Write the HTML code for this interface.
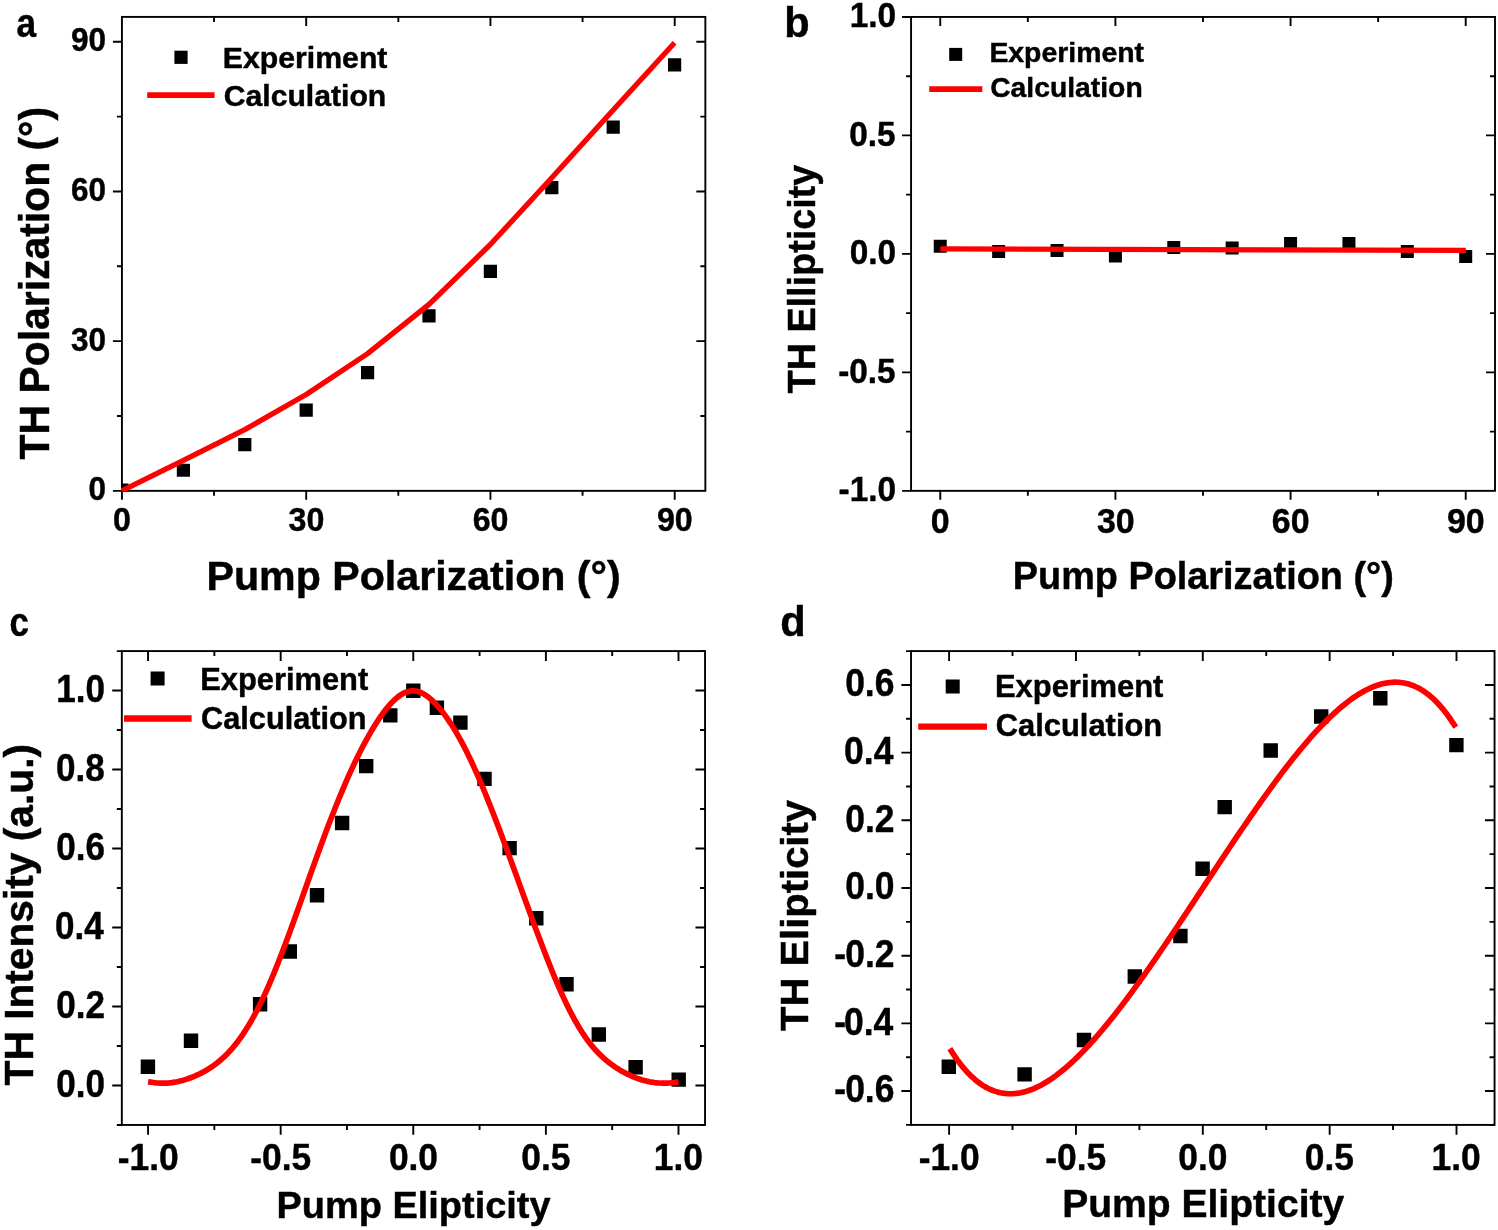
<!DOCTYPE html>
<html lang="en">
<head>
<meta charset="utf-8">
<title>TH polarization and ellipticity</title>
<style>
html,body{margin:0;padding:0;background:#fff;}
body{width:1498px;height:1230px;overflow:hidden;}
svg{display:block;}
svg text{font-family:'Liberation Sans', Arial, Helvetica, sans-serif;font-weight:bold;fill:#000;stroke:#000;stroke-width:0.45px;stroke-linejoin:round;}
</style>
</head>
<body>
<svg width="1498" height="1230" viewBox="0 0 1498 1230">
<rect width="1498" height="1230" fill="#fff"/>
<g id="panel-a">
<clipPath id="ca"><rect x="121.03" y="16.9" width="584.32" height="474.54"/></clipPath>
<rect x="121.93" y="16.9" width="583.42" height="473.94" fill="none" stroke="#000" stroke-width="1.9"/>
<path d="M121.93 490.84v9M306.19 490.84v9M306.19 16.9v9M490.44 490.84v9M490.44 16.9v9M674.7 490.84v9M674.7 16.9v9M214.06 490.84v5M214.06 16.9v5M398.32 490.84v5M398.32 16.9v5M582.57 490.84v5M582.57 16.9v5" stroke="#000" stroke-width="1.9" fill="none"/>
<path d="M121.93 490.84h-9M121.93 341.14h-9M705.35 341.14h-9M121.93 191.44h-9M705.35 191.44h-9M121.93 41.74h-9M705.35 41.74h-9M121.93 415.99h-5M705.35 415.99h-5M121.93 266.29h-5M705.35 266.29h-5M121.93 116.59h-5M705.35 116.59h-5" stroke="#000" stroke-width="1.9" fill="none"/>
<g clip-path="url(#ca)">
<path d="M115.4 483.6h13.2v13.2h-13.2zM176.8 463.67h13.2v13.2h-13.2zM238.2 438.1h13.2v13.2h-13.2zM299.6 403.62h13.2v13.2h-13.2zM361 365.99h13.2v13.2h-13.2zM422.4 309.18h13.2v13.2h-13.2zM483.8 264.83h13.2v13.2h-13.2zM545.2 181.11h13.2v13.2h-13.2zM606.6 120.56h13.2v13.2h-13.2zM668 58.27h13.2v13.2h-13.2z" fill="#000"/>
<polyline points="115.86,493.69 122,490.7 183.4,460.3 244.8,429.65 306.2,394.52 367.6,353.66 429,304.32 490.4,244.52 551.8,177.74 613.2,109.97 674.6,42.7" fill="none" stroke="#f00" stroke-width="5.3" stroke-linejoin="round"/>
</g>
<text x="113.01" y="531.4" font-size="33.5" text-anchor="start" textLength="17.89" lengthAdjust="spacingAndGlyphs">0</text>
<text x="88.48" y="500.44" font-size="32.8" text-anchor="start" textLength="17.51" lengthAdjust="spacingAndGlyphs">0</text>
<text x="288.62" y="531.4" font-size="33.5" text-anchor="start" textLength="35.77" lengthAdjust="spacingAndGlyphs">30</text>
<text x="71.01" y="350.74" font-size="32.8" text-anchor="start" textLength="35.03" lengthAdjust="spacingAndGlyphs">30</text>
<text x="472.64" y="531.4" font-size="33.5" text-anchor="start" textLength="35.77" lengthAdjust="spacingAndGlyphs">60</text>
<text x="71.01" y="201.04" font-size="32.8" text-anchor="start" textLength="35.03" lengthAdjust="spacingAndGlyphs">60</text>
<text x="656.93" y="531.4" font-size="33.5" text-anchor="start" textLength="35.77" lengthAdjust="spacingAndGlyphs">90</text>
<text x="71.01" y="51.34" font-size="32.8" text-anchor="start" textLength="35.03" lengthAdjust="spacingAndGlyphs">90</text>
<text x="206.52" y="590.1" font-size="40.8" text-anchor="start" textLength="414.22" lengthAdjust="spacingAndGlyphs">Pump Polarization (°)</text>
<text x="0" y="0" font-size="41.8" text-anchor="start" textLength="352.45" lengthAdjust="spacingAndGlyphs" transform="translate(48.5 459.41) rotate(-90)">TH Polarization (°)</text>
<rect x="174.4" y="50.7" width="13.2" height="13.2" fill="#000"/>
<line x1="147.2" y1="95.1" x2="214.6" y2="95.1" stroke="#f00" stroke-width="5.7"/>
<text x="222.86" y="67.7" font-size="30.3" text-anchor="start" textLength="164.56" lengthAdjust="spacingAndGlyphs">Experiment</text>
<text x="223.69" y="105.7" font-size="30.3" text-anchor="start" textLength="162.61" lengthAdjust="spacingAndGlyphs">Calculation</text>
<text x="16.44" y="37.1" font-size="41.5" text-anchor="start" textLength="19.64" lengthAdjust="spacingAndGlyphs">a</text>
</g>
<g id="panel-b">
<path d="M933.76 239.8h13v13h-13zM992.14 244.9h13v13h-13zM1050.53 243.9h13v13h-13zM1108.91 249.4h13v13h-13zM1167.29 240.9h13v13h-13zM1225.67 241.4h13v13h-13zM1284.06 236.9h13v13h-13zM1342.44 236.9h13v13h-13zM1400.82 244.9h13v13h-13zM1459.21 249.9h13v13h-13z" fill="#000"/>
<polyline points="940.3,248.9 1465.8,250.4" fill="none" stroke="#f00" stroke-width="5.2" stroke-linejoin="round"/>
<rect x="911.07" y="16.94" width="583.93" height="473.9" fill="none" stroke="#000" stroke-width="1.9"/>
<path d="M940.26 490.84v9M940.26 16.94v9M1115.41 490.84v9M1115.41 16.94v9M1290.56 490.84v9M1290.56 16.94v9M1465.71 490.84v9M1465.71 16.94v9M1027.83 490.84v5M1027.83 16.94v5M1202.98 490.84v5M1202.98 16.94v5M1378.13 490.84v5M1378.13 16.94v5" stroke="#000" stroke-width="1.9" fill="none"/>
<path d="M911.07 490.84h-9M911.07 372.37h-9M1495 372.37h-9M911.07 253.89h-9M1495 253.89h-9M911.07 135.41h-9M1495 135.41h-9M911.07 16.94h-9M911.07 431.6h-5M1495 431.6h-5M911.07 313.13h-5M1495 313.13h-5M911.07 194.65h-5M1495 194.65h-5M911.07 76.18h-5M1495 76.18h-5" stroke="#000" stroke-width="1.9" fill="none"/>
<text x="930.86" y="533.1" font-size="35.3" text-anchor="start" textLength="18.85" lengthAdjust="spacingAndGlyphs">0</text>
<text x="1096.9" y="533.1" font-size="35.3" text-anchor="start" textLength="37.7" lengthAdjust="spacingAndGlyphs">30</text>
<text x="1271.79" y="533.1" font-size="35.3" text-anchor="start" textLength="37.7" lengthAdjust="spacingAndGlyphs">60</text>
<text x="1446.98" y="533.1" font-size="35.3" text-anchor="start" textLength="37.7" lengthAdjust="spacingAndGlyphs">90</text>
<text x="838.58" y="501.24" font-size="35" text-anchor="start" textLength="57.48" lengthAdjust="spacingAndGlyphs">-1.0</text>
<text x="838.16" y="382.76" font-size="35" text-anchor="start" textLength="57.48" lengthAdjust="spacingAndGlyphs">-0.5</text>
<text x="849.67" y="264.29" font-size="35" text-anchor="start" textLength="46.37" lengthAdjust="spacingAndGlyphs">0.0</text>
<text x="849.25" y="145.81" font-size="35" text-anchor="start" textLength="46.37" lengthAdjust="spacingAndGlyphs">0.5</text>
<text x="849.67" y="27.34" font-size="35" text-anchor="start" textLength="46.37" lengthAdjust="spacingAndGlyphs">1.0</text>
<text x="1012.85" y="588.8" font-size="39.3" text-anchor="start" textLength="380.93" lengthAdjust="spacingAndGlyphs">Pump Polarization (°)</text>
<text x="0" y="0" font-size="38.5" text-anchor="start" textLength="228.62" lengthAdjust="spacingAndGlyphs" transform="translate(814.5 393.38) rotate(-90)">TH Ellipticity</text>
<rect x="949.2" y="47.9" width="13" height="13" fill="#000"/>
<line x1="929.2" y1="89.2" x2="982.3" y2="89.2" stroke="#f00" stroke-width="5.8"/>
<text x="989.38" y="61.7" font-size="28.5" text-anchor="start" textLength="154.61" lengthAdjust="spacingAndGlyphs">Experiment</text>
<text x="990.17" y="96.5" font-size="28.5" text-anchor="start" textLength="152.53" lengthAdjust="spacingAndGlyphs">Calculation</text>
<text x="784.3" y="37.3" font-size="43" text-anchor="start" textLength="25.4" lengthAdjust="spacingAndGlyphs">b</text>
</g>
<g id="panel-c">
<path d="M140.7 1059.6h14.4v14.4h-14.4zM183.8 1033.5h14.4v14.4h-14.4zM252.9 997.1h14.4v14.4h-14.4zM282.6 944.3h14.4v14.4h-14.4zM309.8 888h14.4v14.4h-14.4zM334.9 815.8h14.4v14.4h-14.4zM359 758.9h14.4v14.4h-14.4zM383.1 708.2h14.4v14.4h-14.4zM406.1 683.6h14.4v14.4h-14.4zM429.7 700.5h14.4v14.4h-14.4zM453.2 715.4h14.4v14.4h-14.4zM477.3 771.7h14.4v14.4h-14.4zM502.4 840.9h14.4v14.4h-14.4zM529.1 911h14.4v14.4h-14.4zM559.3 977.1h14.4v14.4h-14.4zM591.6 1027.3h14.4v14.4h-14.4zM628.4 1060.1h14.4v14.4h-14.4zM671.5 1072.4h14.4v14.4h-14.4z" fill="#000"/>
<polyline points="148.06,1081.82 150.71,1082.19 153.36,1082.53 156.02,1082.82 158.67,1083.02 161.32,1083.14 163.97,1083.15 166.63,1083.07 169.28,1082.88 171.93,1082.58 174.58,1082.18 177.23,1081.68 179.89,1081.08 182.54,1080.39 185.19,1079.62 187.84,1078.75 190.5,1077.81 193.15,1076.77 195.8,1075.66 198.45,1074.45 201.1,1073.14 203.76,1071.74 206.41,1070.23 209.06,1068.61 211.71,1066.86 214.36,1064.99 217.02,1062.99 219.67,1060.83 222.32,1058.52 224.97,1056.05 227.63,1053.4 230.28,1050.57 232.93,1047.55 235.58,1044.33 238.23,1040.9 240.89,1037.26 243.54,1033.41 246.19,1029.32 248.84,1025.02 251.5,1020.48 254.15,1015.71 256.8,1010.71 259.45,1005.48 262.1,1000.02 264.76,994.35 267.41,988.47 270.06,982.38 272.71,976.11 275.37,969.65 278.02,963.03 280.67,956.25 283.32,949.34 285.97,942.3 288.63,935.16 291.28,927.93 293.93,920.62 296.58,913.25 299.24,905.84 301.89,898.39 304.54,890.94 307.19,883.48 309.84,876.04 312.5,868.62 315.15,861.25 317.8,853.92 320.45,846.66 323.11,839.47 325.76,832.37 328.41,825.36 331.06,818.46 333.71,811.67 336.37,805 339.02,798.46 341.67,792.05 344.32,785.79 346.97,779.67 349.63,773.71 352.28,767.9 354.93,762.26 357.58,756.77 360.24,751.46 362.89,746.31 365.54,741.33 368.19,736.53 370.84,731.91 373.5,727.48 376.15,723.24 378.8,719.19 381.45,715.35 384.11,711.73 386.76,708.33 389.41,705.18 392.06,702.29 394.71,699.68 397.37,697.36 400.02,695.36 402.67,693.71 405.32,692.41 407.98,691.49 410.63,690.95 413.28,690.81 415.93,691.06 418.58,691.7 421.24,692.71 423.89,694.08 426.54,695.78 429.19,697.8 431.85,700.11 434.5,702.69 437.15,705.52 439.8,708.58 442.45,711.87 445.11,715.38 447.76,719.1 450.41,723.04 453.06,727.18 455.72,731.54 458.37,736.11 461.02,740.89 463.67,745.88 466.32,751.07 468.98,756.47 471.63,762.05 474.28,767.82 476.93,773.76 479.58,779.87 482.24,786.13 484.89,792.53 487.54,799.07 490.19,805.73 492.85,812.5 495.5,819.36 498.15,826.31 500.8,833.34 503.45,840.44 506.11,847.59 508.76,854.79 511.41,862.03 514.06,869.3 516.72,876.59 519.37,883.89 522.02,891.19 524.67,898.49 527.32,905.77 529.98,913.02 532.63,920.24 535.28,927.41 537.93,934.53 540.59,941.57 543.24,948.54 545.89,955.4 548.54,962.16 551.19,968.8 553.85,975.3 556.5,981.64 559.15,987.81 561.8,993.8 564.46,999.59 567.11,1005.16 569.76,1010.52 572.41,1015.64 575.06,1020.53 577.72,1025.17 580.37,1029.55 583.02,1033.69 585.67,1037.59 588.33,1041.24 590.98,1044.66 593.63,1047.85 596.28,1050.83 598.93,1053.61 601.59,1056.2 604.24,1058.62 606.89,1060.88 609.54,1062.98 612.19,1064.96 614.85,1066.8 617.5,1068.54 620.15,1070.16 622.8,1071.68 625.46,1073.1 628.11,1074.43 630.76,1075.66 633.41,1076.81 636.06,1077.86 638.72,1078.81 641.37,1079.67 644.02,1080.44 646.67,1081.11 649.33,1081.69 651.98,1082.16 654.63,1082.55 657.28,1082.83 659.93,1083.02 662.59,1083.11 665.24,1083.12 667.89,1083.03 670.54,1082.85 673.2,1082.58 675.85,1082.23 678.5,1081.8" fill="none" stroke="#f00" stroke-width="5.7" stroke-linejoin="round"/>
<rect x="121.83" y="651.08" width="583.22" height="473.86" fill="none" stroke="#000" stroke-width="1.9"/>
<path d="M148.06 1124.94v9.8M148.06 651.08v9.8M280.67 1124.94v9.8M280.67 651.08v9.8M413.28 1124.94v9.8M413.28 651.08v9.8M545.89 1124.94v9.8M545.89 651.08v9.8M678.5 1124.94v9.8M678.5 651.08v9.8M214.36 1124.94v5M214.36 651.08v5M346.97 1124.94v5M346.97 651.08v5M479.58 1124.94v5M479.58 651.08v5M612.19 1124.94v5M612.19 651.08v5" stroke="#000" stroke-width="1.9" fill="none"/>
<path d="M121.83 1085.45h-9.6M705.05 1085.45h-9.6M121.83 1006.47h-9.6M705.05 1006.47h-9.6M121.83 927.5h-9.6M705.05 927.5h-9.6M121.83 848.52h-9.6M705.05 848.52h-9.6M121.83 769.55h-9.6M705.05 769.55h-9.6M121.83 690.57h-9.6M705.05 690.57h-9.6M121.83 1124.94h-5M705.05 1124.94h-5M121.83 1045.96h-5M705.05 1045.96h-5M121.83 966.99h-5M705.05 966.99h-5M121.83 888.01h-5M705.05 888.01h-5M121.83 809.03h-5M705.05 809.03h-5M121.83 730.06h-5M705.05 730.06h-5M121.83 651.08h-5M705.05 651.08h-5" stroke="#000" stroke-width="1.9" fill="none"/>
<text x="117.83" y="1169.8" font-size="37" text-anchor="start" textLength="60.89" lengthAdjust="spacingAndGlyphs">-1.0</text>
<text x="250.22" y="1169.8" font-size="37" text-anchor="start" textLength="60.89" lengthAdjust="spacingAndGlyphs">-0.5</text>
<text x="388.92" y="1169.8" font-size="37" text-anchor="start" textLength="49.12" lengthAdjust="spacingAndGlyphs">0.0</text>
<text x="521.31" y="1169.8" font-size="37" text-anchor="start" textLength="49.12" lengthAdjust="spacingAndGlyphs">0.5</text>
<text x="653.74" y="1169.8" font-size="37" text-anchor="start" textLength="49.12" lengthAdjust="spacingAndGlyphs">1.0</text>
<text x="56.35" y="1096.85" font-size="38" text-anchor="start" textLength="48.76" lengthAdjust="spacingAndGlyphs">0.0</text>
<text x="56.35" y="1017.87" font-size="38" text-anchor="start" textLength="48.76" lengthAdjust="spacingAndGlyphs">0.2</text>
<text x="55.12" y="938.9" font-size="38" text-anchor="start" textLength="48.76" lengthAdjust="spacingAndGlyphs">0.4</text>
<text x="56.17" y="859.92" font-size="38" text-anchor="start" textLength="48.76" lengthAdjust="spacingAndGlyphs">0.6</text>
<text x="56" y="780.95" font-size="38" text-anchor="start" textLength="48.76" lengthAdjust="spacingAndGlyphs">0.8</text>
<text x="56.35" y="701.97" font-size="38" text-anchor="start" textLength="48.76" lengthAdjust="spacingAndGlyphs">1.0</text>
<text x="276.44" y="1217.5" font-size="37.5" text-anchor="start" textLength="274.18" lengthAdjust="spacingAndGlyphs">Pump Elipticity</text>
<text x="0" y="0" font-size="39.8" text-anchor="start" textLength="341.42" lengthAdjust="spacingAndGlyphs" transform="translate(32.5 1085.41) rotate(-90)">TH Intensity (a.u.)</text>
<rect x="150.6" y="671.5" width="14" height="14" fill="#000"/>
<line x1="124" y1="718.5" x2="191.6" y2="718.5" stroke="#f00" stroke-width="6.4"/>
<text x="200.22" y="689.5" font-size="30.8" text-anchor="start" textLength="168.01" lengthAdjust="spacingAndGlyphs">Experiment</text>
<text x="201.07" y="729.2" font-size="30.8" text-anchor="start" textLength="165.57" lengthAdjust="spacingAndGlyphs">Calculation</text>
<text x="9.61" y="635.8" font-size="41" text-anchor="start" textLength="19.39" lengthAdjust="spacingAndGlyphs">c</text>
</g>
<g id="panel-d">
<path d="M941.6 1059.5h14.4v14.4h-14.4zM1017.4 1067.2h14.4v14.4h-14.4zM1076.8 1032.8h14.4v14.4h-14.4zM1127.6 969.3h14.4v14.4h-14.4zM1173.2 928.8h14.4v14.4h-14.4zM1195.4 861.5h14.4v14.4h-14.4zM1217.5 799.9h14.4v14.4h-14.4zM1263.5 743.3h14.4v14.4h-14.4zM1314 709.3h14.4v14.4h-14.4zM1373.1 691.1h14.4v14.4h-14.4zM1449.2 737.9h14.4v14.4h-14.4z" fill="#000"/>
<polyline points="949.86,1048.62 952.39,1052.66 954.92,1056.49 957.45,1060.1 959.98,1063.5 962.51,1066.69 965.04,1069.68 967.57,1072.47 970.1,1075.08 972.63,1077.49 975.15,1079.72 977.68,1081.77 980.21,1083.64 982.74,1085.34 985.27,1086.87 987.8,1088.24 990.33,1089.45 992.86,1090.5 995.39,1091.39 997.92,1092.14 1000.45,1092.74 1002.98,1093.2 1005.51,1093.52 1008.04,1093.71 1010.57,1093.76 1013.1,1093.68 1015.63,1093.48 1018.15,1093.16 1020.68,1092.71 1023.21,1092.15 1025.74,1091.47 1028.27,1090.68 1030.8,1089.79 1033.33,1088.79 1035.86,1087.68 1038.39,1086.48 1040.92,1085.18 1043.45,1083.78 1045.98,1082.29 1048.51,1080.72 1051.04,1079.05 1053.57,1077.3 1056.1,1075.47 1058.62,1073.55 1061.15,1071.56 1063.68,1069.49 1066.21,1067.35 1068.74,1065.14 1071.27,1062.85 1073.8,1060.5 1076.33,1058.09 1078.86,1055.61 1081.39,1053.07 1083.92,1050.46 1086.45,1047.8 1088.98,1045.09 1091.51,1042.32 1094.04,1039.49 1096.57,1036.62 1099.1,1033.69 1101.62,1030.72 1104.15,1027.7 1106.68,1024.64 1109.21,1021.53 1111.74,1018.39 1114.27,1015.2 1116.8,1011.97 1119.33,1008.71 1121.86,1005.41 1124.39,1002.07 1126.92,998.7 1129.45,995.3 1131.98,991.87 1134.51,988.41 1137.04,984.92 1139.57,981.41 1142.09,977.86 1144.62,974.3 1147.15,970.71 1149.68,967.1 1152.21,963.46 1154.74,959.81 1157.27,956.14 1159.8,952.45 1162.33,948.74 1164.86,945.02 1167.39,941.28 1169.92,937.53 1172.45,933.77 1174.98,930 1177.51,926.21 1180.04,922.42 1182.56,918.61 1185.09,914.8 1187.62,910.98 1190.15,907.16 1192.68,903.33 1195.21,899.5 1197.74,895.66 1200.27,891.83 1202.8,887.99 1205.33,884.15 1207.86,880.32 1210.39,876.48 1212.92,872.65 1215.45,868.82 1217.98,865 1220.51,861.18 1223.04,857.37 1225.56,853.56 1228.09,849.77 1230.62,845.98 1233.15,842.21 1235.68,838.45 1238.21,834.7 1240.74,830.96 1243.27,827.24 1245.8,823.53 1248.33,819.84 1250.86,816.17 1253.39,812.52 1255.92,808.88 1258.45,805.27 1260.98,801.68 1263.51,798.12 1266.03,794.57 1268.56,791.06 1271.09,787.57 1273.62,784.11 1276.15,780.68 1278.68,777.28 1281.21,773.91 1283.74,770.57 1286.27,767.27 1288.8,764.01 1291.33,760.78 1293.86,757.59 1296.39,754.45 1298.92,751.34 1301.45,748.28 1303.98,745.26 1306.5,742.29 1309.03,739.36 1311.56,736.49 1314.09,733.66 1316.62,730.89 1319.15,728.18 1321.68,725.52 1324.21,722.91 1326.74,720.37 1329.27,717.89 1331.8,715.48 1334.33,713.13 1336.86,710.84 1339.39,708.63 1341.92,706.49 1344.45,704.42 1346.98,702.43 1349.5,700.51 1352.03,698.68 1354.56,696.93 1357.09,695.26 1359.62,693.69 1362.15,692.2 1364.68,690.8 1367.21,689.5 1369.74,688.3 1372.27,687.19 1374.8,686.19 1377.33,685.3 1379.86,684.51 1382.39,683.83 1384.92,683.27 1387.45,682.82 1389.97,682.5 1392.5,682.3 1395.03,682.22 1397.56,682.27 1400.09,682.46 1402.62,682.78 1405.15,683.24 1407.68,683.84 1410.21,684.59 1412.74,685.48 1415.27,686.53 1417.8,687.74 1420.33,689.11 1422.86,690.64 1425.39,692.34 1427.92,694.21 1430.45,696.26 1432.97,698.49 1435.5,700.9 1438.03,703.51 1440.56,706.3 1443.09,709.29 1445.62,712.48 1448.15,715.88 1450.68,719.49 1453.21,723.32 1455.74,727.36" fill="none" stroke="#f00" stroke-width="5.7" stroke-linejoin="round"/>
<rect x="911.03" y="651.08" width="583.52" height="473.82" fill="none" stroke="#000" stroke-width="1.9"/>
<path d="M949.1 1124.9v9.8M949.1 651.08v9.8M1075.95 1124.9v9.8M1075.95 651.08v9.8M1202.8 1124.9v9.8M1202.8 651.08v9.8M1329.65 1124.9v9.8M1329.65 651.08v9.8M1456.5 1124.9v9.8M1456.5 651.08v9.8M1012.52 1124.9v5M1012.52 651.08v5M1139.38 1124.9v5M1139.38 651.08v5M1266.22 1124.9v5M1266.22 651.08v5M1393.07 1124.9v5M1393.07 651.08v5" stroke="#000" stroke-width="1.9" fill="none"/>
<path d="M911.03 1091.05h-9.6M1494.55 1091.05h-9.6M911.03 1023.37h-9.6M1494.55 1023.37h-9.6M911.03 955.68h-9.6M1494.55 955.68h-9.6M911.03 887.99h-9.6M1494.55 887.99h-9.6M911.03 820.3h-9.6M1494.55 820.3h-9.6M911.03 752.61h-9.6M1494.55 752.61h-9.6M911.03 684.93h-9.6M1494.55 684.93h-9.6M911.03 1124.9h-5M1494.55 1124.9h-5M911.03 1057.21h-5M1494.55 1057.21h-5M911.03 989.52h-5M1494.55 989.52h-5M911.03 921.83h-5M1494.55 921.83h-5M911.03 854.15h-5M1494.55 854.15h-5M911.03 786.46h-5M1494.55 786.46h-5M911.03 718.77h-5M1494.55 718.77h-5M911.03 651.08h-5M1494.55 651.08h-5" stroke="#000" stroke-width="1.9" fill="none"/>
<text x="918.67" y="1170" font-size="37" text-anchor="start" textLength="60.89" lengthAdjust="spacingAndGlyphs">-1.0</text>
<text x="1045.3" y="1170" font-size="37" text-anchor="start" textLength="60.89" lengthAdjust="spacingAndGlyphs">-0.5</text>
<text x="1178.24" y="1170" font-size="37" text-anchor="start" textLength="49.12" lengthAdjust="spacingAndGlyphs">0.0</text>
<text x="1304.87" y="1170" font-size="37" text-anchor="start" textLength="49.12" lengthAdjust="spacingAndGlyphs">0.5</text>
<text x="1431.54" y="1170" font-size="37" text-anchor="start" textLength="49.12" lengthAdjust="spacingAndGlyphs">1.0</text>
<text transform="translate(834.3 1102.25) scale(0.9190 1)" font-size="38.6" style="font-kerning:none">-<tspan dx="-1.07">0.6</tspan></text>
<text transform="translate(834.3 1034.57) scale(0.9190 1)" font-size="38.6" style="font-kerning:none">-<tspan dx="-2.23">0.4</tspan></text>
<text transform="translate(834.3 966.88) scale(0.9190 1)" font-size="38.6" style="font-kerning:none">-<tspan dx="-0.88">0.2</tspan></text>
<text x="845.31" y="899.19" font-size="38.6" text-anchor="start" textLength="49.31" lengthAdjust="spacingAndGlyphs">0.0</text>
<text x="845.31" y="831.5" font-size="38.6" text-anchor="start" textLength="49.31" lengthAdjust="spacingAndGlyphs">0.2</text>
<text x="844.07" y="763.81" font-size="38.6" text-anchor="start" textLength="49.31" lengthAdjust="spacingAndGlyphs">0.4</text>
<text x="845.13" y="696.13" font-size="38.6" text-anchor="start" textLength="49.31" lengthAdjust="spacingAndGlyphs">0.6</text>
<text x="1062.16" y="1217.3" font-size="38.6" text-anchor="start" textLength="282.06" lengthAdjust="spacingAndGlyphs">Pump Elipticity</text>
<text x="0" y="0" font-size="39.3" text-anchor="start" textLength="231.04" lengthAdjust="spacingAndGlyphs" transform="translate(808 1031) rotate(-90)">TH Elipticity</text>
<rect x="945.7" y="679.5" width="14" height="14" fill="#000"/>
<line x1="918.2" y1="726.6" x2="987" y2="726.6" stroke="#f00" stroke-width="6.4"/>
<text x="994.91" y="697.1" font-size="31" text-anchor="start" textLength="168.52" lengthAdjust="spacingAndGlyphs">Experiment</text>
<text x="995.76" y="736.2" font-size="31" text-anchor="start" textLength="166.48" lengthAdjust="spacingAndGlyphs">Calculation</text>
<text x="780.34" y="635.7" font-size="42" text-anchor="start" textLength="25.4" lengthAdjust="spacingAndGlyphs">d</text>
</g>
</svg>
</body>
</html>
